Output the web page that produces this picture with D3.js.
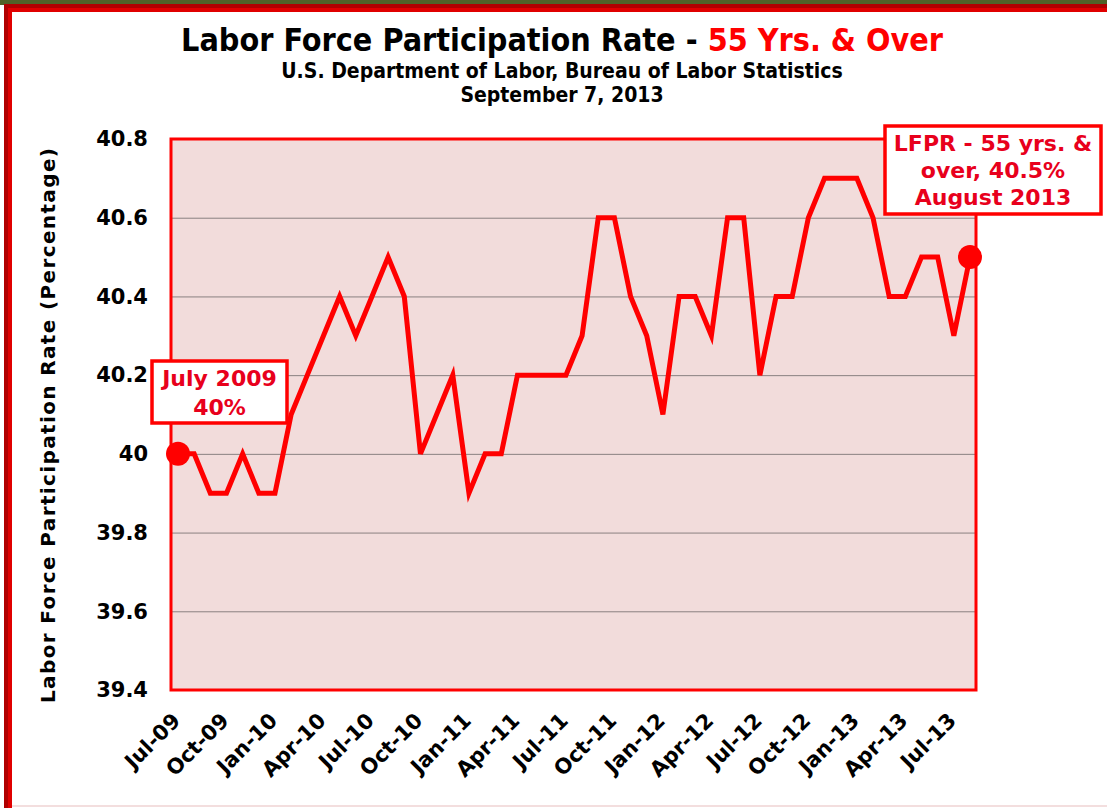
<!DOCTYPE html>
<html>
<head>
<meta charset="utf-8">
<script src="https://cdn.jsdelivr.net/npm/d3@7"></script>
<style>
  body { margin: 0; background: #fff; }
  svg { display: block; }
</style>
</head>
<body>
<div id="chart"></div>
<script>
const width = 1107;
const height = 808;

const months = [
    'Jul-09', 'Aug-09', 'Sep-09', 'Oct-09', 'Nov-09', 'Dec-09',
    'Jan-10', 'Feb-10', 'Mar-10', 'Apr-10', 'May-10', 'Jun-10',
    'Jul-10', 'Aug-10', 'Sep-10', 'Oct-10', 'Nov-10', 'Dec-10',
    'Jan-11', 'Feb-11', 'Mar-11', 'Apr-11', 'May-11', 'Jun-11',
    'Jul-11', 'Aug-11', 'Sep-11', 'Oct-11', 'Nov-11', 'Dec-11',
    'Jan-12', 'Feb-12', 'Mar-12', 'Apr-12', 'May-12', 'Jun-12',
    'Jul-12', 'Aug-12', 'Sep-12', 'Oct-12', 'Nov-12', 'Dec-12',
    'Jan-13', 'Feb-13', 'Mar-13', 'Apr-13', 'May-13', 'Jun-13',
    'Jul-13', 'Aug-13'
];

const rates = [
    40.0, 40.0, 39.9, 39.9, 40.0, 39.9,
    39.9, 40.1, 40.2, 40.3, 40.4, 40.3,
    40.4, 40.5, 40.4, 40.0, 40.1, 40.2,
    39.9, 40.0, 40.0, 40.2, 40.2, 40.2,
    40.2, 40.3, 40.6, 40.6, 40.4, 40.3,
    40.1, 40.4, 40.4, 40.3, 40.6, 40.6,
    40.2, 40.4, 40.4, 40.6, 40.7, 40.7,
    40.7, 40.6, 40.4, 40.4, 40.5, 40.5,
    40.3, 40.5
];

const tickLabels = [
    'Jul-09', 'Oct-09', 'Jan-10', 'Apr-10', 'Jul-10', 'Oct-10',
    'Jan-11', 'Apr-11', 'Jul-11', 'Oct-11', 'Jan-12', 'Apr-12',
    'Jul-12', 'Oct-12', 'Jan-13', 'Apr-13', 'Jul-13'
];

const yTicks = [39.4, 39.6, 39.8, 40.0, 40.2, 40.4, 40.6, 40.8];

const startNote = ['July 2009', '40%'];
const endNote = ['LFPR - 55 yrs. &', 'over, 40.5%', 'August 2013'];

const red = '#ff0000';
const noteRed = '#e8001c';
const font = '"DejaVu Sans", Verdana, sans-serif';
const titleFont = '"DejaVu Sans Condensed", "DejaVu Sans", sans-serif';

const plot = { left: 171, right: 976, top: 139, bottom: 690 };

const svg = d3.select('#chart')
    .append('svg')
    .attr('width', width)
    .attr('height', height);

// outer frame
svg.append('rect').attr('x', 0).attr('y', 0).attr('width', width).attr('height', 5).attr('fill', '#4f6228');
svg.append('rect').attr('x', 4).attr('y', 4).attr('width', width).attr('height', 4).attr('fill', '#b00000');
svg.append('rect').attr('x', 8).attr('y', 8).attr('width', width).attr('height', 4).attr('fill', '#e00000');
svg.append('rect').attr('x', 4).attr('y', 4).attr('width', 4).attr('height', height).attr('fill', '#b00000');
svg.append('rect').attr('x', 8).attr('y', 8).attr('width', 4).attr('height', height).attr('fill', '#e00000');
svg.append('rect').attr('x', 12).attr('y', 805).attr('width', width).attr('height', 2).attr('fill', '#f3dede');

// titles
const title = svg.append('text')
    .attr('x', 562)
    .attr('y', 51)
    .attr('text-anchor', 'middle')
    .style('font-family', titleFont)
    .style('font-weight', 'bold')
    .style('font-size', '32px');
title.append('tspan').attr('fill', '#000').text('Labor Force Participation Rate - ');
title.append('tspan').attr('fill', red).text('55 Yrs. & Over');

svg.append('text')
    .attr('x', 562)
    .attr('y', 78)
    .attr('text-anchor', 'middle')
    .style('font-family', titleFont)
    .style('font-weight', 'bold')
    .style('font-size', '21px')
    .text('U.S. Department of Labor, Bureau of Labor Statistics');

svg.append('text')
    .attr('x', 562)
    .attr('y', 102)
    .attr('text-anchor', 'middle')
    .style('font-family', titleFont)
    .style('font-weight', 'bold')
    .style('font-size', '21px')
    .text('September 7, 2013');

// scales
const x = d3.scalePoint()
    .domain(months)
    .range([178, 970]);

const y = d3.scaleLinear()
    .domain([39.4, 40.8])
    .range([plot.bottom, plot.top]);

// plot area
svg.append('rect')
    .attr('x', plot.left)
    .attr('y', plot.top)
    .attr('width', plot.right - plot.left)
    .attr('height', plot.bottom - plot.top)
    .attr('fill', '#f2dcdb');

// gridlines
svg.append('g')
    .attr('transform', `translate(${plot.left}, 0)`)
    .call(d3.axisLeft(y)
        .tickValues(yTicks.filter(d => d > 39.4 && d < 40.8))
        .tickSize(-(plot.right - plot.left))
        .tickFormat(''))
    .call(g => g.select('.domain').remove())
    .selectAll('line')
    .attr('stroke', '#8a8080')
    .attr('stroke-width', 1);

svg.append('rect')
    .attr('x', plot.left)
    .attr('y', plot.top)
    .attr('width', plot.right - plot.left)
    .attr('height', plot.bottom - plot.top)
    .attr('fill', 'none')
    .attr('stroke', red)
    .attr('stroke-width', 3);

// y axis
svg.append('g')
    .attr('transform', `translate(${plot.left}, 0)`)
    .call(d3.axisLeft(y)
        .tickValues(yTicks)
        .tickSize(0)
        .tickPadding(23)
        .tickFormat(d => d === 40 ? '40' : d3.format('.1f')(d)))
    .call(g => g.select('.domain').remove())
    .selectAll('text')
    .attr('fill', '#000')
    .style('font-family', font)
    .style('font-weight', 'bold')
    .style('font-size', '21px');

svg.append('text')
    .attr('transform', `translate(55, ${(148 + 703) / 2}) rotate(-90)`)
    .attr('text-anchor', 'middle')
    .attr('textLength', 555)
    .attr('lengthAdjust', 'spacing')
    .style('font-family', font)
    .style('font-weight', 'bold')
    .style('font-size', '20px')
    .text('Labor Force Participation Rate (Percentage)');

// x axis
svg.append('g')
    .attr('transform', `translate(0, ${plot.bottom})`)
    .call(d3.axisBottom(x)
        .tickValues(tickLabels)
        .tickSize(0))
    .call(g => g.select('.domain').remove())
    .selectAll('text')
    .attr('y', 0)
    .attr('dy', 0)
    .attr('text-anchor', 'end')
    .attr('transform', 'translate(3, 32) rotate(-45)')
    .attr('fill', '#000')
    .style('font-family', font)
    .style('font-weight', 'bold')
    .style('font-size', '21px');

// line
const line = d3.line()
    .x((d, i) => x(months[i]))
    .y(d => y(d));

svg.append('path')
    .datum(rates)
    .attr('d', line)
    .attr('fill', 'none')
    .attr('stroke', red)
    .attr('stroke-width', 5)
    .attr('stroke-linejoin', 'miter');

// end point markers
const last = rates.length - 1;
svg.selectAll('.marker')
    .data([0, last])
    .enter()
    .append('circle')
    .attr('cx', i => x(months[i]))
    .attr('cy', i => y(rates[i]))
    .attr('r', 12)
    .attr('fill', red);

// callouts
function callout(lines, bx, by, bw, bh, lineGap, size) {
    svg.append('rect')
        .attr('x', bx)
        .attr('y', by)
        .attr('width', bw)
        .attr('height', bh)
        .attr('fill', '#fff')
        .attr('stroke', red)
        .attr('stroke-width', 3.5);

    const t = svg.append('text')
        .attr('text-anchor', 'middle')
        .attr('fill', noteRed)
        .style('font-family', font)
        .style('font-weight', 'bold')
        .style('font-size', size + 'px');

    lines.forEach((s, i) => {
        t.append('tspan')
            .attr('x', bx + bw / 2)
            .attr('y', by + 25 + i * lineGap)
            .text(s);
    });
}

callout(startNote, 152, 361, 135, 62, 29, 22);
callout(endNote, 885, 126, 216, 88, 27, 22);
</script>
</body>
</html>
